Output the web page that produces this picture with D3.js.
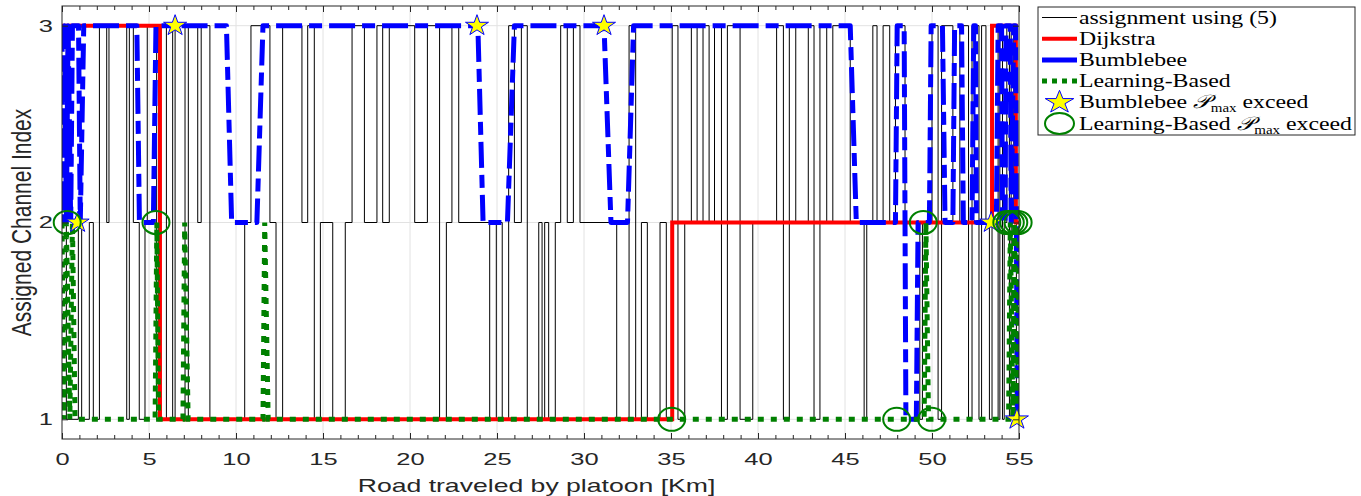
<!DOCTYPE html>
<html>
<head>
<meta charset="utf-8">
<script src="https://cdn.jsdelivr.net/npm/d3@7"></script>
<style>
  body { margin: 0; background: #fff; }
  svg { display: block; }
</style>
</head>
<body>
<svg id="chart" width="1361" height="496"></svg>
<script>
// Tick labels
const xTicks = [0, 5, 10, 15, 20, 25, 30, 35, 40, 45, 50, 55];
const yTicks = [1, 2, 3];

// Channel chosen by the per-step assignment rule (5): [km, channel], held until next km
const assignment = [
  [0, 3], [0.25, 1], [0.94, 2], [1.13, 1], [1.57, 2], [1.8, 1], [2.15, 3], [2.57, 2], [2.7, 3],
  [3.72, 1], [3.87, 3], [4.1, 2], [4.44, 1], [4.77, 2], [4.9, 3], [5.44, 1], [6.0, 3], [6.36, 1],
  [6.5, 3], [7.07, 1], [7.26, 3], [7.8, 2], [8.0, 3], [8.5, 1], [10.5, 2], [10.86, 3], [11.95, 2],
  [12.3, 1], [12.68, 3], [13.79, 2], [14.12, 3], [14.5, 1], [14.85, 2], [15.56, 1], [16.28, 2],
  [16.67, 3], [17.38, 2], [18.1, 3], [18.43, 2], [18.81, 3], [20.27, 2], [21.0, 3], [21.7, 1],
  [22.09, 2], [22.41, 3], [22.8, 2], [24.58, 1], [24.96, 2], [25.3, 1], [25.67, 3], [26.0, 2],
  [26.4, 3], [26.74, 1], [27.4, 2], [27.59, 1], [27.74, 2], [27.97, 1], [28.35, 2], [28.66, 3],
  [29.04, 2], [29.39, 3], [29.77, 2], [31.88, 1], [32.59, 3], [32.97, 1], [33.3, 2], [33.64, 1],
  [34.37, 2], [34.73, 1], [35.07, 3], [35.4, 1], [35.79, 2], [36.17, 3], [36.5, 2], [36.84, 3],
  [37.19, 2], [37.5, 3], [37.9, 1], [38.24, 3], [38.97, 1], [39.7, 2], [41.07, 3], [41.46, 1],
  [41.8, 3], [42.17, 2], [42.89, 3], [43.22, 1], [43.56, 3], [43.95, 2], [44.3, 3], [45.3, 2],
  [46.1, 1], [46.25, 2], [46.6, 3], [46.84, 2], [47.19, 3], [47.57, 2], [47.9, 3], [48.45, 2],
  [49.3, 1], [49.45, 2], [50.0, 3], [50.35, 1], [50.55, 3], [51.2, 2], [51.6, 3], [52.1, 1],
  [52.3, 3], [52.7, 1], [52.85, 3], [53.1, 2], [53.3, 1], [53.45, 3], [53.8, 1], [53.9, 3],
  [54.05, 1], [54.15, 2], [54.3, 3], [54.45, 1], [54.55, 3], [54.7, 2], [54.85, 1], [55, 1]
];

// Dijkstra path: [km, channel], held until next km
const dijkstra = [[0, 3], [5.63, 1], [35.07, 2], [53.45, 3], [54.82, 2], [55, 2]];

// Bumblebee samples: [km, channel]
const bumblebee = [
  [0, 3], [0.05, 2], [0.15, 3], [0.25, 2], [0.35, 3], [0.5, 2], [0.6, 3], [0.95, 3], [1.05, 2],
  [1.25, 3], [4.3, 3], [4.45, 2], [5.25, 2], [5.4, 3], [9.45, 3], [9.75, 2], [11.2, 2], [11.55, 3],
  [23.9, 3], [24.2, 2], [25.6, 2], [26.0, 3], [31.15, 3], [31.55, 2], [32.5, 2], [32.85, 3],
  [45.3, 3], [45.65, 2], [47.9, 2], [48.0, 3], [48.4, 3], [48.5, 1], [49.1, 1], [49.2, 2],
  [49.85, 2], [49.95, 3], [50.6, 3], [50.75, 2], [51.2, 2], [51.3, 3], [51.7, 3], [51.8, 2],
  [52.3, 2], [52.4, 3], [52.5, 3], [52.55, 2], [53.7, 2], [53.8, 3], [54.0, 3], [54.05, 2],
  [54.2, 2], [54.25, 3], [54.5, 3], [54.55, 2], [54.7, 3], [54.8, 3], [54.9, 1]
];

// Learning-based samples: [km, channel]
const learning = [
  [0, 2], [0.1, 1], [0.25, 2], [0.45, 1], [0.6, 2], [0.75, 1], [5.35, 1], [5.45, 2], [5.55, 1],
  [6.95, 1], [7.05, 2], [7.25, 1], [11.55, 1], [11.65, 2], [11.85, 1], [49.55, 1], [49.65, 2],
  [49.8, 1], [54.4, 1], [54.5, 2], [54.65, 1], [54.75, 2], [54.9, 1], [55, 2]
];

// Points where the transmit power limit is exceeded: [km, channel]
const bumblebeeExceed = [[0.9, 2], [6.5, 3], [23.85, 3], [31.15, 3], [53.4, 2], [54.88, 1]];
const learningExceed = [[0.3, 2], [5.4, 2], [35.04, 1], [47.97, 1], [49.98, 1], [49.5, 2],
  [54.3, 2], [54.5, 2], [54.7, 2], [54.95, 2]];

const legendLabels = ["assignment using (5)", "Dijkstra", "Bumblebee", "Learning-Based",
  "Bumblebee", "Learning-Based"];

const svg = d3.select("#chart");
const x = d3.scaleLinear().domain([0, 55]).range([62, 1019]);
const y = d3.scaleLinear().domain([0.9, 3.1]).range([439, 6]);
const axisColor = "#262626";

// grid
svg.append("g").selectAll("line").data(xTicks.filter(d => d > 0 && d < 55)).join("line")
  .attr("x1", d => x(d)).attr("x2", d => x(d)).attr("y1", y(3.1)).attr("y2", y(0.9))
  .attr("stroke", "#e2e2e2").attr("stroke-width", 1);
svg.append("g").selectAll("line").data(yTicks).join("line")
  .attr("x1", x(0)).attr("x2", x(55)).attr("y1", d => y(d)).attr("y2", d => y(d))
  .attr("stroke", "#e2e2e2").attr("stroke-width", 1);

// series
svg.append("defs").append("clipPath").attr("id", "plotclip")
  .append("rect").attr("x", x(0)).attr("y", y(3.1)).attr("width", x(55) - x(0)).attr("height", y(0.9) - y(3.1));
const plot = svg.append("g").attr("clip-path", "url(#plotclip)");
const stepLine = d3.line().x(d => x(d[0])).y(d => y(d[1])).curve(d3.curveStepAfter);
const polyLine = d3.line().x(d => x(d[0])).y(d => y(d[1]));

plot.append("path").attr("d", stepLine(assignment)).attr("fill", "none")
  .attr("stroke", "#000").attr("stroke-width", 1);
plot.append("path").attr("d", stepLine(dijkstra)).attr("fill", "none")
  .attr("stroke", "#ff0000").attr("stroke-width", 4);
plot.append("path").attr("d", polyLine(bumblebee)).attr("fill", "none")
  .attr("stroke", "#0000ff").attr("stroke-width", 5).attr("stroke-linejoin", "round")
  .attr("stroke-dasharray", "26,7,13,7");
plot.append("path").attr("d", polyLine(learning)).attr("fill", "none")
  .attr("stroke", "#008000").attr("stroke-width", 5)
  .attr("stroke-dasharray", "6,7");

// pentagram marker
function starPath(R, sx) {
  const pts = [];
  for (let i = 0; i < 10; i++) {
    const r = i % 2 === 0 ? R : R * 0.382;
    const a = -Math.PI / 2 + i * Math.PI / 5;
    pts.push([sx * r * Math.cos(a), r * Math.sin(a)]);
  }
  return "M" + pts.map(p => p[0].toFixed(2) + "," + p[1].toFixed(2)).join("L") + "Z";
}

svg.append("g").selectAll("path").data(bumblebeeExceed).join("path")
  .attr("transform", d => `translate(${x(d[0])},${y(d[1])})`)
  .attr("d", starPath(11, 1.1)).attr("fill", "#ffff00").attr("stroke", "#0000ff").attr("stroke-width", 1);
svg.append("g").selectAll("ellipse").data(learningExceed).join("ellipse")
  .attr("cx", d => x(d[0])).attr("cy", d => y(d[1])).attr("rx", 13.5).attr("ry", 11.5)
  .attr("fill", "none").attr("stroke", "#008000").attr("stroke-width", 2);

// axes
function styleAxis(g) {
  g.select(".domain").remove();
  g.attr("font-family", "'Liberation Sans', Arial, sans-serif").attr("font-size", 17);
  g.selectAll("line").attr("stroke", axisColor);
  g.selectAll("text").attr("fill", axisColor);
}
const gB = svg.append("g").attr("transform", `translate(0,${y(0.9)})`)
  .call(d3.axisBottom(x).tickValues(xTicks).tickSizeInner(-6).tickSizeOuter(0).tickPadding(14).tickFormat(d3.format("d")))
  .call(styleAxis);
gB.selectAll("text").attr("transform", "scale(1.5,1)");
svg.append("g").attr("transform", `translate(0,${y(0.9)})`)
  .call(d3.axisBottom(x).tickValues(d3.range(0, 56, 1)).tickSizeInner(-4).tickSizeOuter(0).tickFormat(""))
  .call(styleAxis);
svg.append("g").attr("transform", `translate(0,${y(3.1)})`)
  .call(d3.axisTop(x).tickValues(d3.range(0, 56, 1)).tickSizeInner(-4).tickSizeOuter(0).tickFormat(""))
  .call(styleAxis);
svg.append("g").attr("transform", `translate(0,${y(3.1)})`)
  .call(d3.axisTop(x).tickValues(xTicks).tickSizeInner(-6).tickSizeOuter(0).tickFormat(""))
  .call(styleAxis);
const gL = svg.append("g").attr("transform", `translate(${x(0)},0)`)
  .call(d3.axisLeft(y).tickValues(yTicks).tickSizeInner(-6).tickSizeOuter(0).tickFormat(d3.format("d")))
  .call(styleAxis);
gL.selectAll("text").attr("x", 0).attr("transform", "translate(-9,0) scale(1.5,1)");
svg.append("g").attr("transform", `translate(${x(55)},0)`)
  .call(d3.axisRight(y).tickValues(yTicks).tickSizeInner(-6).tickSizeOuter(0).tickFormat(""))
  .call(styleAxis);

svg.append("rect").attr("x", x(0)).attr("y", y(3.1)).attr("width", x(55) - x(0)).attr("height", y(0.9) - y(3.1))
  .attr("fill", "none").attr("stroke", axisColor).attr("stroke-width", 1);

// axis titles
svg.append("text").attr("transform", `translate(${(x(0) + x(55)) / 2 - 4},492) scale(1.43,1)`)
  .attr("text-anchor", "middle").attr("font-family", "'Liberation Sans', Arial, sans-serif")
  .attr("font-size", 18.6).attr("fill", axisColor).text("Road traveled by platoon [Km]");
svg.append("text").attr("transform", `translate(31,${y(2)}) scale(1.35,1) rotate(-90)`)
  .attr("text-anchor", "middle").attr("font-family", "'Liberation Sans', Arial, sans-serif")
  .attr("font-size", 21).attr("fill", axisColor).text("Assigned Channel Index");

// legend
const lg = svg.append("g");
lg.append("rect").attr("x", 1038).attr("y", 7).attr("width", 317).attr("height", 128)
  .attr("fill", "#fff").attr("stroke", axisColor).attr("stroke-width", 1);
const rowY = i => 17.5 + i * 21.2;
const lx0 = 1042, lx1 = 1077;
lg.append("line").attr("x1", lx0).attr("x2", lx1).attr("y1", rowY(0)).attr("y2", rowY(0))
  .attr("stroke", "#000").attr("stroke-width", 1);
lg.append("line").attr("x1", lx0).attr("x2", lx1).attr("y1", rowY(1)).attr("y2", rowY(1))
  .attr("stroke", "#ff0000").attr("stroke-width", 4);
lg.append("line").attr("x1", lx0).attr("x2", lx1).attr("y1", rowY(2)).attr("y2", rowY(2))
  .attr("stroke", "#0000ff").attr("stroke-width", 5);
lg.append("line").attr("x1", lx0).attr("x2", lx1).attr("y1", rowY(3)).attr("y2", rowY(3))
  .attr("stroke", "#008000").attr("stroke-width", 5).attr("stroke-dasharray", "5,5");
lg.append("path").attr("transform", `translate(${(lx0 + lx1) / 2},${rowY(4)})`)
  .attr("d", starPath(12, 1.25)).attr("fill", "#ffff00").attr("stroke", "#0000ff").attr("stroke-width", 1);
lg.append("ellipse").attr("cx", (lx0 + lx1) / 2).attr("cy", rowY(5)).attr("rx", 14.5).attr("ry", 10.5)
  .attr("fill", "none").attr("stroke", "#008000").attr("stroke-width", 2);

legendLabels.forEach((label, i) => {
  const t = lg.append("text").attr("transform", `translate(1079,${rowY(i) + 6}) scale(1.25,1)`)
    .attr("font-family", "'Liberation Serif', 'Times New Roman', serif").attr("font-size", 19).attr("fill", "#000");
  t.append("tspan").text(label);
  if (i >= 4) {
    t.append("tspan").text(" ");
    t.append("tspan").attr("font-family", "'DejaVu Serif', 'DejaVu Sans', serif").attr("font-style", "italic").text("𝒫");
    t.append("tspan").attr("font-size", 12).attr("dy", 4).text("max");
    t.append("tspan").attr("dy", -4).text(" exceed");
  }
});
</script>
</body>
</html>
